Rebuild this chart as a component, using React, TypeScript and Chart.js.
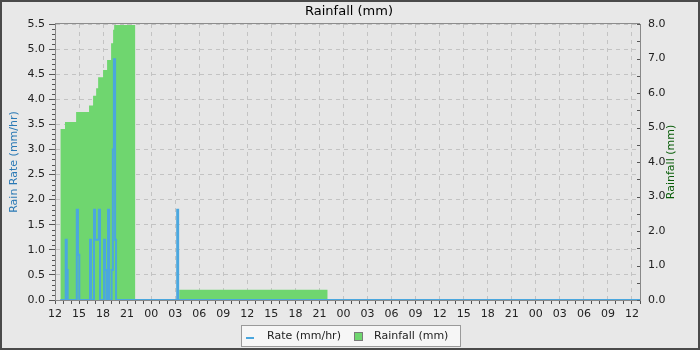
import React, { useEffect, useRef } from 'react';
import { Chart, registerables } from 'chart.js';

Chart.register(...registerables);

// Time is expressed in minutes since 12:00 on the first day.
const hourLabels = [
  '12', '15', '18', '21', '00', '03', '06', '09',
  '12', '15', '18', '21', '00', '03', '06', '09',
  '12', '15', '18', '21', '00', '03', '06', '09', '12',
];
const rateTickValues = [0, 0.5, 1, 1.5, 2, 2.5, 3, 3.5, 4, 4.5, 5, 5.5];
const rainTickValues = [0, 1, 2, 3, 4, 5, 6, 7, 8];

const rateMinutes = [40, 80, 88, 95, 163, 172, 182, 262, 270, 292, 300, 328, 337, 367, 375, 385, 397, 405, 424, 433, 441, 450, 457, 915, 922, 4380];
const rateValues = [0, 1.2, 0.6, 0, 1.8, 0.9, 0, 1.2, 0, 1.8, 1.2, 1.8, 0, 1.2, 0.6, 0, 1.8, 0, 0.6, 3.0, 4.8, 1.2, 0, 1.8, 0, 0];

const rainMinutes = [40, 75, 158, 255, 285, 308, 323, 360, 390, 420, 435, 443, 600, 930, 2040, 4380];
const rainValues = [4.96, 5.16, 5.45, 5.64, 5.92, 6.14, 6.46, 6.67, 6.96, 7.44, 7.83, 7.97, 0, 0.3, 0, 0];

const RATE_COLOR = '#4ba7de';
const RAIN_COLOR = '#6fd66f';
const GRID_COLOR = '#c3c3c3';
const FONT = 'DejaVu Sans';

const xTickValues: number[] = [];
for (let m = 0; m <= 4380; m += 60) xTickValues.push(m);

const decorPlugin = {
  id: 'decor',
  beforeDraw(chart: any) {
    const { ctx, chartArea: a } = chart;
    ctx.save();
    ctx.fillStyle = '#e8e8e8';
    ctx.fillRect(0, 0, chart.width, chart.height);
    ctx.fillStyle = '#e6e6e6';
    ctx.fillRect(a.left, a.top, a.right - a.left, a.bottom - a.top);
    ctx.restore();
  },
  afterDraw(chart: any) {
    const { ctx, chartArea: a } = chart;
    const yL = chart.scales.y;
    const yR = chart.scales.y1;
    ctx.save();
    // plot top outline
    ctx.strokeStyle = '#8c8c8c';
    ctx.lineWidth = 1;
    ctx.beginPath();
    ctx.moveTo(a.left, Math.floor(a.top) - 0.5);
    ctx.lineTo(a.right, Math.floor(a.top) - 0.5);
    ctx.stroke();

    // minor ticks
    ctx.strokeStyle = '#555';
    ctx.beginPath();
    for (let i = 0; i <= 55; i++) {
      if (i % 5 === 0) continue;
      const y = Math.round(yL.getPixelForValue(i / 10)) + 0.5;
      ctx.moveTo(a.left - 3, y);
      ctx.lineTo(a.left, y);
    }
    for (let i = 0; i <= 16; i++) {
      const y = Math.round(yR.getPixelForValue(i / 2)) + 0.5;
      ctx.moveTo(a.right - 3, y);
      ctx.lineTo(a.right, y);
    }
    ctx.stroke();

    // title
    ctx.fillStyle = '#000';
    ctx.font = `13px "${FONT}"`;
    ctx.textAlign = 'center';
    ctx.textBaseline = 'middle';
    ctx.fillText('Rainfall (mm)', 349, 12);

    // axis titles
    const midY = (a.top + a.bottom) / 2;
    ctx.font = `11px "${FONT}"`;
    ctx.save();
    ctx.translate(14.5, midY);
    ctx.rotate(-Math.PI / 2);
    ctx.fillStyle = '#2a79b5';
    ctx.fillText('Rain Rate (mm/hr)', 0, 0);
    ctx.restore();
    ctx.save();
    ctx.translate(671, midY);
    ctx.rotate(-Math.PI / 2);
    ctx.fillStyle = '#0a5e0a';
    ctx.fillText('Rainfall (mm)', 0, 0);
    ctx.restore();

    // legend
    ctx.fillStyle = '#f6f6f6';
    ctx.fillRect(241, 325, 219, 22);
    ctx.strokeStyle = '#9a9a9a';
    ctx.lineWidth = 1;
    ctx.strokeRect(241.5, 325.5, 219, 21);
    ctx.strokeStyle = RATE_COLOR;
    ctx.lineWidth = 2;
    ctx.beginPath();
    ctx.moveTo(246, 338);
    ctx.lineTo(254, 338);
    ctx.stroke();
    ctx.fillStyle = '#222';
    ctx.textAlign = 'left';
    ctx.fillText('Rate (mm/hr)', 267, 336.5);
    ctx.fillStyle = RAIN_COLOR;
    ctx.fillRect(355, 333, 7, 7);
    ctx.strokeStyle = '#7a7a7a';
    ctx.lineWidth = 1;
    ctx.strokeRect(354.5, 332.5, 8, 8);
    ctx.fillStyle = '#222';
    ctx.fillText('Rainfall (mm)', 374, 336.5);

    // outer frame
    ctx.strokeStyle = '#4a4a4a';
    ctx.lineWidth = 2;
    ctx.strokeRect(1, 1, chart.width - 2, chart.height - 2);
    ctx.restore();
  },
};

export default function App() {
  const ref = useRef<HTMLCanvasElement>(null);
  useEffect(() => {
    document.body.style.margin = '0';
    const tickFont = { family: FONT, size: 11 };
    const chart = new Chart(ref.current as HTMLCanvasElement, {
      type: 'line',
      data: {
        datasets: [
          {
            label: 'Rate (mm/hr)',
            data: rateMinutes.map((m, i) => ({ x: m, y: rateValues[i] })),
            borderColor: RATE_COLOR,
            backgroundColor: RATE_COLOR,
            borderWidth: 2,
            stepped: true,
            pointRadius: 0,
            fill: false,
            yAxisID: 'y',
          },
          {
            label: 'Rainfall (mm)',
            data: rainMinutes.map((m, i) => ({ x: m, y: rainValues[i] })),
            borderColor: RAIN_COLOR,
            backgroundColor: RAIN_COLOR,
            borderWidth: 0,
            stepped: true,
            pointRadius: 0,
            fill: 'origin',
            yAxisID: 'y1',
          },
        ],
      },
      options: {
        animation: false,
        responsive: false,
        devicePixelRatio: 1,
        events: [],
        layout: { padding: { top: 24, bottom: 30, left: 0, right: 0 } },
        plugins: {
          legend: { display: false },
          title: { display: false },
          tooltip: { enabled: false },
        },
        scales: {
          x: {
            type: 'linear',
            min: 0,
            max: 4380,
            afterBuildTicks: (s: any) => {
              s.ticks = xTickValues.map((v) => ({ value: v }));
            },
            afterFit: (s: any) => {
              s.height = 20;
            },
            ticks: {
              autoSkip: false,
              maxRotation: 0,
              minRotation: 0,
              padding: 4,
              color: '#222',
              font: tickFont,
              callback: (v: any) => {
                const n = Number(v);
                if (n % 180 !== 0 || n > 4320) return '';
                return hourLabels[n / 180];
              },
            },
            grid: {
              color: (c: any) => (c.tick && c.tick.value % 180 === 0 && c.tick.value <= 4320 ? GRID_COLOR : 'rgba(0,0,0,0)'),
              tickColor: '#555',
              tickLength: 4,
              lineWidth: 1,
            },
            border: { display: true, color: '#888', dash: [4, 4] },
          },
          y: {
            position: 'left',
            min: 0,
            max: 5.5,
            afterBuildTicks: (s: any) => {
              s.ticks = rateTickValues.map((v) => ({ value: v }));
            },
            afterFit: (s: any) => {
              s.width = 55;
            },
            ticks: {
              autoSkip: false,
              padding: 4,
              color: '#222',
              font: tickFont,
              callback: (v: any) => Number(v).toFixed(1),
            },
            grid: { color: GRID_COLOR, tickColor: '#555', tickLength: 6, lineWidth: 1 },
            border: { display: true, color: '#888', dash: [4, 4] },
          },
          y1: {
            position: 'right',
            min: 0,
            max: 8,
            afterBuildTicks: (s: any) => {
              s.ticks = rainTickValues.map((v) => ({ value: v }));
            },
            afterFit: (s: any) => {
              s.width = 60;
            },
            ticks: {
              autoSkip: false,
              padding: 8,
              color: '#222',
              font: tickFont,
              callback: (v: any) => Number(v).toFixed(1),
            },
            grid: { drawOnChartArea: false, drawTicks: false },
            border: { display: true, color: '#888' },
          },
        },
      },
      plugins: [decorPlugin],
    } as any);
    return () => chart.destroy();
  }, []);
  return (
    <div style={{ width: 700, height: 350 }}>
      <canvas ref={ref} width={700} height={350} style={{ display: 'block' }} />
    </div>
  );
}
